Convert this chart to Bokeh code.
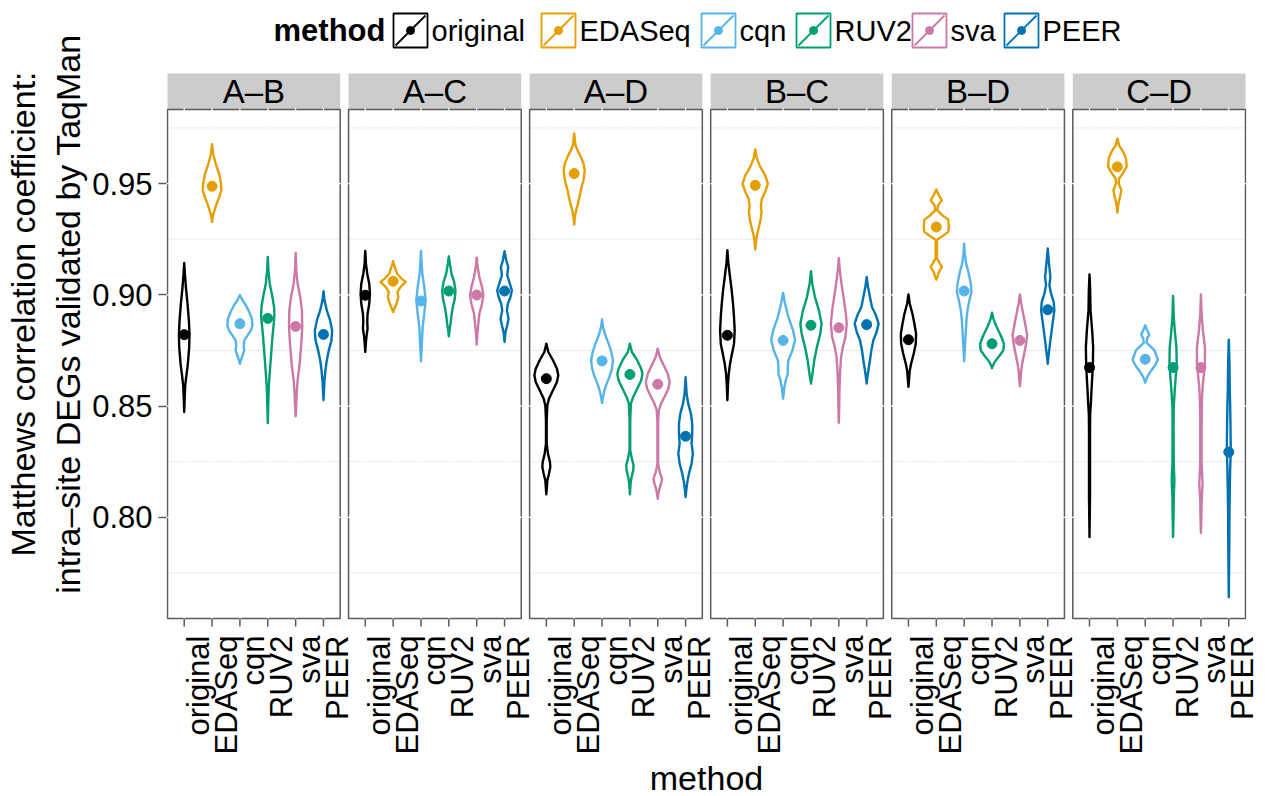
import math
from bokeh.plotting import figure
from bokeh.models import Range1d, LinearAxis, FixedTicker, NumeralTickFormatter
from bokeh.embed import file_html
from bokeh.resources import INLINE
from bokeh.core.properties import value

# ---------------- data ----------------
methods = ["original", "EDASeq", "cqn", "RUV2", "sva", "PEER"]
colors = ["#000000", "#E69F00", "#56B4E9", "#009E73", "#CC79A7", "#0072B2"]
comparisons = ["A–B", "A–C", "A–D", "B–C", "B–D", "C–D"]
y_ticks = [0.80, 0.85, 0.90, 0.95]
y_minor = [0.775, 0.825, 0.875, 0.925, 0.975]

# median point of each violin, per comparison, in the order of `methods`
median_AB = [0.8821, 0.9488, 0.8870, 0.8894, 0.8858, 0.8822]
median_AC = [0.8998, 0.9061, 0.8972, 0.9017, 0.8999, 0.9017]
median_AD = [0.8623, 0.9545, 0.8703, 0.8642, 0.8598, 0.8364]
median_BC = [0.8818, 0.9492, 0.8795, 0.8863, 0.8852, 0.8866]
median_BD = [0.8798, 0.9305, 0.9017, 0.8780, 0.8795, 0.8933]
median_CD = [0.8673, 0.9575, 0.8710, 0.8673, 0.8673, 0.8293]

# violin outlines: (MCC levels, half-width of the density in category units)
violin_AB = {
    "original": ([0.9143, 0.9095, 0.9035, 0.8960, 0.8885, 0.8825, 0.8765, 0.8690, 0.8630, 0.8593, 0.8541, 0.8473],
                 [0, 0.024, 0.06, 0.119, 0.167, 0.19, 0.179, 0.131, 0.071, 0.036, 0.018, 0]),
    "EDASeq": ([0.9677, 0.9635, 0.9590, 0.9545, 0.9500, 0.9470, 0.9440, 0.9410, 0.9383, 0.9358, 0.9328],
               [0, 0.036, 0.131, 0.25, 0.321, 0.333, 0.262, 0.167, 0.095, 0.036, 0]),
    "cqn": ([0.8999, 0.8975, 0.8953, 0.8923, 0.8893, 0.8863, 0.8840, 0.8818, 0.8795, 0.8773, 0.8750, 0.8728, 0.8706, 0.8690],
            [0, 0.095, 0.214, 0.333, 0.429, 0.452, 0.393, 0.274, 0.155, 0.131, 0.155, 0.095, 0.036, 0]),
    "RUV2": ([0.9170, 0.9110, 0.9050, 0.8990, 0.8945, 0.8908, 0.8870, 0.8810, 0.8750, 0.8690, 0.8630, 0.8586, 0.8511, 0.8424],
             [0, 0.024, 0.071, 0.167, 0.226, 0.238, 0.214, 0.167, 0.131, 0.095, 0.06, 0.036, 0.018, 0]),
    "sva": ([0.9188, 0.9110, 0.9050, 0.8990, 0.8930, 0.8855, 0.8780, 0.8690, 0.8615, 0.8556, 0.8496, 0.8454],
            [0, 0.024, 0.071, 0.167, 0.226, 0.238, 0.202, 0.143, 0.071, 0.036, 0.018, 0]),
    "PEER": ([0.9016, 0.8975, 0.8930, 0.8885, 0.8840, 0.8795, 0.8750, 0.8706, 0.8660, 0.8615, 0.8571, 0.8526],
             [0, 0.036, 0.119, 0.238, 0.31, 0.286, 0.19, 0.119, 0.071, 0.036, 0.018, 0]),
}
violin_AC = {
    "original": ([0.9197, 0.9140, 0.9095, 0.9050, 0.9005, 0.8960, 0.8915, 0.8878, 0.8848, 0.8818, 0.8788, 0.8743],
                 [0, 0.024, 0.071, 0.143, 0.167, 0.143, 0.083, 0.071, 0.083, 0.048, 0.024, 0]),
    "EDASeq": ([0.9151, 0.9125, 0.9095, 0.9073, 0.9058, 0.9035, 0.9013, 0.8990, 0.8968, 0.8945, 0.8923],
               [0, 0.06, 0.143, 0.298, 0.452, 0.262, 0.155, 0.19, 0.143, 0.071, 0]),
    "cqn": ([0.9197, 0.9140, 0.9095, 0.9035, 0.8975, 0.8915, 0.8855, 0.8795, 0.8750, 0.8701],
            [0, 0.024, 0.048, 0.119, 0.167, 0.119, 0.06, 0.036, 0.018, 0]),
    "RUV2": ([0.9173, 0.9140, 0.9095, 0.9058, 0.9020, 0.8983, 0.8945, 0.8908, 0.8870, 0.8840, 0.8813],
             [0, 0.036, 0.095, 0.19, 0.238, 0.214, 0.143, 0.095, 0.06, 0.024, 0]),
    "sva": ([0.9167, 0.9125, 0.9080, 0.9035, 0.8998, 0.8960, 0.8915, 0.8870, 0.8825, 0.8776],
            [0, 0.036, 0.095, 0.19, 0.238, 0.19, 0.095, 0.06, 0.024, 0]),
    "PEER": ([0.9196, 0.9155, 0.9125, 0.9088, 0.9050, 0.9020, 0.8990, 0.8960, 0.8930, 0.8893, 0.8863, 0.8833, 0.8788],
             [0, 0.06, 0.131, 0.095, 0.19, 0.262, 0.214, 0.119, 0.083, 0.143, 0.095, 0.036, 0]),
}
violin_AD = {
    "original": ([0.8780, 0.8743, 0.8706, 0.8668, 0.8638, 0.8608, 0.8571, 0.8533, 0.8503, 0.8436, 0.8331, 0.8286, 0.8248, 0.8226, 0.8196, 0.8166, 0.8103],
                 [0, 0.071, 0.238, 0.381, 0.429, 0.381, 0.238, 0.095, 0.036, 0.012, 0.012, 0.06, 0.131, 0.143, 0.095, 0.036, 0]),
    "EDASeq": ([0.9725, 0.9672, 0.9650, 0.9620, 0.9590, 0.9560, 0.9515, 0.9470, 0.9432, 0.9402, 0.9380, 0.9358, 0.9316],
               [0, 0.048, 0.119, 0.238, 0.333, 0.381, 0.333, 0.238, 0.179, 0.119, 0.071, 0.036, 0]),
    "cqn": ([0.8890, 0.8855, 0.8818, 0.8780, 0.8743, 0.8706, 0.8668, 0.8630, 0.8593, 0.8563, 0.8541, 0.8514],
            [0, 0.036, 0.119, 0.238, 0.333, 0.393, 0.357, 0.262, 0.143, 0.071, 0.036, 0]),
    "RUV2": ([0.8780, 0.8743, 0.8706, 0.8668, 0.8645, 0.8615, 0.8578, 0.8541, 0.8511, 0.8436, 0.8301, 0.8263, 0.8233, 0.8211, 0.8181, 0.8151, 0.8103],
             [0, 0.071, 0.262, 0.405, 0.452, 0.405, 0.262, 0.119, 0.036, 0.012, 0.012, 0.071, 0.131, 0.119, 0.06, 0.024, 0]),
    "sva": ([0.8758, 0.8721, 0.8683, 0.8645, 0.8608, 0.8578, 0.8541, 0.8511, 0.8481, 0.8421, 0.8241, 0.8203, 0.8173, 0.8151, 0.8128, 0.8106, 0.8083],
            [0, 0.071, 0.214, 0.357, 0.429, 0.381, 0.238, 0.119, 0.036, 0.012, 0.012, 0.071, 0.155, 0.119, 0.06, 0.024, 0]),
    "PEER": ([0.8630, 0.8556, 0.8511, 0.8466, 0.8421, 0.8376, 0.8331, 0.8286, 0.8241, 0.8196, 0.8158, 0.8121, 0.8091],
             [0, 0.036, 0.095, 0.19, 0.238, 0.238, 0.214, 0.262, 0.214, 0.119, 0.06, 0.024, 0]),
}
violin_BC = {
    "original": ([0.9200, 0.9140, 0.9080, 0.9020, 0.8960, 0.8900, 0.8840, 0.8780, 0.8736, 0.8690, 0.8645, 0.8601, 0.8526],
                 [0, 0.036, 0.095, 0.155, 0.202, 0.238, 0.262, 0.238, 0.167, 0.095, 0.048, 0.024, 0]),
    "EDASeq": ([0.9653, 0.9612, 0.9575, 0.9537, 0.9500, 0.9462, 0.9432, 0.9402, 0.9372, 0.9335, 0.9298, 0.9268, 0.9238, 0.9203],
               [0, 0.06, 0.179, 0.357, 0.452, 0.357, 0.238, 0.202, 0.226, 0.19, 0.119, 0.06, 0.024, 0]),
    "cqn": ([0.9008, 0.8960, 0.8900, 0.8840, 0.8798, 0.8750, 0.8706, 0.8676, 0.8645, 0.8615, 0.8586, 0.8533],
            [0, 0.071, 0.19, 0.357, 0.429, 0.333, 0.19, 0.167, 0.167, 0.095, 0.048, 0]),
    "RUV2": ([0.9106, 0.9050, 0.8990, 0.8930, 0.8870, 0.8825, 0.8765, 0.8706, 0.8660, 0.8630, 0.8601],
             [0, 0.048, 0.143, 0.286, 0.381, 0.333, 0.214, 0.119, 0.071, 0.036, 0]),
    "sva": ([0.9166, 0.9110, 0.9050, 0.8990, 0.8930, 0.8870, 0.8810, 0.8765, 0.8721, 0.8660, 0.8571, 0.8481, 0.8425],
            [0, 0.036, 0.095, 0.167, 0.238, 0.286, 0.238, 0.143, 0.083, 0.048, 0.024, 0.012, 0]),
    "PEER": ([0.9080, 0.9035, 0.8990, 0.8945, 0.8908, 0.8870, 0.8833, 0.8795, 0.8750, 0.8706, 0.8668, 0.8638, 0.8601],
             [0, 0.048, 0.119, 0.19, 0.333, 0.429, 0.357, 0.238, 0.167, 0.119, 0.071, 0.036, 0]),
}
violin_BD = {
    "original": ([0.9002, 0.8960, 0.8915, 0.8870, 0.8825, 0.8780, 0.8736, 0.8690, 0.8660, 0.8623, 0.8586],
                 [0, 0.048, 0.143, 0.214, 0.274, 0.262, 0.19, 0.095, 0.048, 0.024, 0]),
    "EDASeq": ([0.9473, 0.9447, 0.9425, 0.9402, 0.9380, 0.9358, 0.9338, 0.9305, 0.9283, 0.9263, 0.9248, 0.9163, 0.9148, 0.9125, 0.9103, 0.9080, 0.9068],
               [0, 0.095, 0.202, 0.06, 0.036, 0.214, 0.429, 0.452, 0.429, 0.214, 0.024, 0.024, 0.095, 0.202, 0.095, 0.036, 0]),
    "cqn": ([0.9230, 0.9185, 0.9140, 0.9095, 0.9050, 0.9013, 0.8975, 0.8930, 0.8885, 0.8840, 0.8780, 0.8736, 0.8701],
            [0, 0.024, 0.071, 0.167, 0.238, 0.262, 0.19, 0.119, 0.083, 0.06, 0.036, 0.012, 0]),
    "RUV2": ([0.8920, 0.8893, 0.8855, 0.8818, 0.8780, 0.8750, 0.8721, 0.8698, 0.8683, 0.8671],
             [0, 0.048, 0.167, 0.31, 0.429, 0.405, 0.238, 0.095, 0.036, 0]),
    "sva": ([0.9002, 0.8960, 0.8915, 0.8870, 0.8818, 0.8773, 0.8728, 0.8690, 0.8660, 0.8623, 0.8589],
            [0, 0.048, 0.119, 0.19, 0.262, 0.214, 0.143, 0.083, 0.048, 0.024, 0]),
    "PEER": ([0.9208, 0.9155, 0.9110, 0.9080, 0.9043, 0.9005, 0.8968, 0.8930, 0.8885, 0.8840, 0.8795, 0.8758, 0.8721, 0.8690],
             [0, 0.036, 0.071, 0.095, 0.06, 0.119, 0.214, 0.238, 0.19, 0.143, 0.095, 0.06, 0.024, 0]),
}
violin_CD = {
    "original": ([0.9092, 0.9020, 0.8930, 0.8840, 0.8765, 0.8676, 0.8571, 0.8511, 0.8466, 0.8391, 0.8091, 0.7911],
                 [0, 0.024, 0.036, 0.095, 0.131, 0.119, 0.071, 0.048, 0.024, 0.018, 0.018, 0]),
    "EDASeq": ([0.9702, 0.9672, 0.9642, 0.9612, 0.9575, 0.9545, 0.9522, 0.9500, 0.9470, 0.9440, 0.9417, 0.9395, 0.9369],
               [0, 0.06, 0.214, 0.31, 0.333, 0.19, 0.06, 0.048, 0.143, 0.095, 0.048, 0.024, 0]),
    "cqn": ([0.8863, 0.8840, 0.8822, 0.8803, 0.8785, 0.8750, 0.8708, 0.8683, 0.8653, 0.8630, 0.8605],
            [0, 0.071, 0.143, 0.071, 0.048, 0.333, 0.452, 0.357, 0.179, 0.071, 0]),
    "RUV2": ([0.8995, 0.8900, 0.8840, 0.8765, 0.8690, 0.8630, 0.8571, 0.8496, 0.8391, 0.8241, 0.8166, 0.8091, 0.8016, 0.7911],
             [0, 0.024, 0.06, 0.119, 0.131, 0.095, 0.06, 0.024, 0.018, 0.024, 0.048, 0.024, 0.018, 0]),
    "sva": ([0.9002, 0.8915, 0.8840, 0.8765, 0.8690, 0.8630, 0.8586, 0.8526, 0.8421, 0.8241, 0.8151, 0.8076, 0.8016, 0.7929],
            [0, 0.024, 0.071, 0.143, 0.143, 0.095, 0.06, 0.036, 0.024, 0.024, 0.06, 0.024, 0.018, 0]),
    "PEER": ([0.8798, 0.8690, 0.8571, 0.8511, 0.8421, 0.8301, 0.8211, 0.8121, 0.8016, 0.7866, 0.7641],
             [0, 0.024, 0.036, 0.048, 0.06, 0.071, 0.048, 0.036, 0.024, 0.018, 0]),
}

violins = [violin_AB, violin_AC, violin_AD, violin_BC, violin_BD, violin_CD]
medians = [median_AB, median_AC, median_AD, median_BC, median_BD, median_CD]

# ---------------- layout ----------------
FONT = "Liberation Sans"
PANEL_W = 6.2                 # 6 categories + 0.6 expansion on each side
PITCH = 6.5                   # panel width + gap between panels
X_END = 5 * PITCH + PANEL_W
KX = 1078 / X_END             # px per x unit
Y_LO, Y_TOP = 0.7545, 0.9833  # panel limits
KY = (Y_TOP - Y_LO) / 509     # y units per px
PAGE_LEFT, PAGE_BOTTOM = 167, 618
TICK = 8


def X(px):
    return (px - PAGE_LEFT) / KX


def Y(py):
    return Y_LO + (PAGE_BOTTOM - py) * KY


BORDER = "#5A5A5A"
FRAME_BOTTOM = PAGE_BOTTOM + TICK + 1

p = figure(frame_width=1080, frame_height=FRAME_BOTTOM,
           x_range=Range1d(X(166), X(1246)), y_range=Range1d(Y(FRAME_BOTTOM), Y(0)),
           x_axis_type=None, y_axis_type=None,
           output_backend="svg", toolbar_location=None,
           min_border_left=166, min_border_right=14, min_border_top=0, min_border_bottom=0)
p.outline_line_color = None
p.background_fill_color = "white"
p.border_fill_color = "white"

# y axis
yax = LinearAxis(ticker=FixedTicker(ticks=y_ticks, minor_ticks=[]),
                 formatter=NumeralTickFormatter(format="0.00"))
yax.axis_line_color = None
yax.major_tick_out = TICK
yax.major_tick_in = 0
yax.major_tick_line_color = BORDER
yax.major_tick_line_width = 1.5
yax.minor_tick_line_color = None
yax.major_label_text_font = FONT
yax.major_label_text_font_size = "31px"
yax.major_label_text_color = "black"
yax.major_label_standoff = 6
yax.axis_label = "Matthews correlation coefficient:\nintra–site DEGs validated by TaqMan"
yax.axis_label_text_font = FONT
yax.axis_label_text_font_size = "34px"
yax.axis_label_text_font_style = "normal"
yax.axis_label_text_color = "black"
yax.axis_label_standoff = 2
p.add_layout(yax, "left")

# category positions of every method of every panel
cat_x = [round(i * PITCH + 0.6 + k, 2) for i in range(len(comparisons)) for k in range(len(methods))]
cat_names = {x: methods[j % len(methods)] for j, x in enumerate(cat_x)}

# x axis labels (they sit a little to the right of their ticks, as in the reference)
SHIFT = 14 / KX
p.extra_x_ranges = {"lab": Range1d(X(166) - SHIFT, X(1246) - SHIFT)}
xlab = LinearAxis(x_range_name="lab", ticker=FixedTicker(ticks=cat_x, minor_ticks=[]),
                  major_label_overrides=cat_names)
xlab.axis_line_color = None
xlab.major_tick_line_color = None
xlab.major_tick_out = 0
xlab.major_tick_in = 0
xlab.minor_tick_line_color = None
xlab.major_label_orientation = math.pi / 2
xlab.major_label_text_font = FONT
xlab.major_label_text_font_size = "31px"
xlab.major_label_text_color = "black"
xlab.major_label_standoff = 8
xlab.axis_label = "method"
xlab.axis_label_text_font = FONT
xlab.axis_label_text_font_size = "34px"
xlab.axis_label_text_font_style = "normal"
xlab.axis_label_text_color = "black"
xlab.axis_label_standoff = 2
p.add_layout(xlab, "below")

# panels
lefts = [i * PITCH for i in range(len(comparisons))]
rights = [l + PANEL_W for l in lefts]

# strips
p.quad(left=lefts, right=rights, bottom=Y(108.5), top=Y(73), fill_color="#CCCCCC", line_color=None)
p.text(x=[(l + r) / 2 for l, r in zip(lefts, rights)], y=Y(91), text=comparisons,
       text_font=value(FONT), text_font_size="33px", text_align="center",
       text_baseline="middle", text_color="black")

# minor grid
for l, r in zip(lefts, rights):
    p.segment(x0=[l] * len(y_minor), x1=[r] * len(y_minor), y0=y_minor, y1=y_minor,
              line_color="#EBEBEB", line_width=1)

# panel border
p.quad(left=lefts, right=rights, bottom=Y_LO, top=Y_TOP, fill_color=None,
       line_color=BORDER, line_width=1.5)

# white major grid (breaks the border slightly, as in the reference)
ex = 1.5 / KX
ey = 1.5 * KY
for l, r in zip(lefts, rights):
    p.segment(x0=[l - ex] * len(y_ticks), x1=[r + ex] * len(y_ticks), y0=y_ticks, y1=y_ticks,
              line_color="white", line_width=1.2)
p.segment(x0=cat_x, x1=cat_x, y0=[Y_LO - ey] * len(cat_x), y1=[Y_TOP + ey] * len(cat_x),
          line_color="white", line_width=1.2)

# x tick marks below each panel
p.segment(x0=cat_x, x1=cat_x, y0=[Y_LO] * len(cat_x), y1=[Y_LO - TICK * KY] * len(cat_x),
          line_color=BORDER, line_width=1.5)

# violins
pxs, pys, pcol = [], [], []
mx, my, mcol = [], [], []
for i, comp in enumerate(comparisons):
    for k, m in enumerate(methods):
        cx = cat_x[i * len(methods) + k]
        ys, ws = violins[i][m]
        pxs.append([cx + w for w in ws] + [cx - w for w in reversed(ws)])
        pys.append(list(ys) + list(reversed(ys)))
        pcol.append(colors[k])
        mx.append(cx)
        my.append(medians[i][k])
        mcol.append(colors[k])

p.patches(xs=pxs, ys=pys, fill_color="white", line_color=pcol, line_width=2.4, line_join="round")
p.scatter(x=mx, y=my, size=10, fill_color=mcol, line_color=mcol, marker="circle")

# legend (above the panels)
LEG_KEYS = [393, 541, 701, 796, 912, 1004]
KEY = 34
ky0, ky1 = 13, 47
p.text(x=[X(273)], y=[Y(30)], text=["method"], text_font=value(FONT), text_font_size="31px",
       text_font_style="bold", text_align="left", text_baseline="middle", text_color="black")
p.quad(left=[X(k) for k in LEG_KEYS], right=[X(k + KEY) for k in LEG_KEYS],
       bottom=Y(ky1), top=Y(ky0), fill_color="white", line_color=colors, line_width=1.8)
p.segment(x0=[X(k + 2) for k in LEG_KEYS], y0=Y(ky1 - 2), x1=[X(k + KEY - 2) for k in LEG_KEYS],
          y1=Y(ky0 + 2), line_color=colors, line_width=1.8)
p.scatter(x=[X(k + KEY / 2) for k in LEG_KEYS], y=Y(30), size=8, fill_color=colors,
          line_color=colors, marker="circle")
p.text(x=[X(k + KEY + 4) for k in LEG_KEYS], y=Y(30), text=methods, text_font=value(FONT),
       text_font_size="29px", text_align="left", text_baseline="middle", text_color="black")

open("out.html", "w").write(file_html(p, INLINE))
